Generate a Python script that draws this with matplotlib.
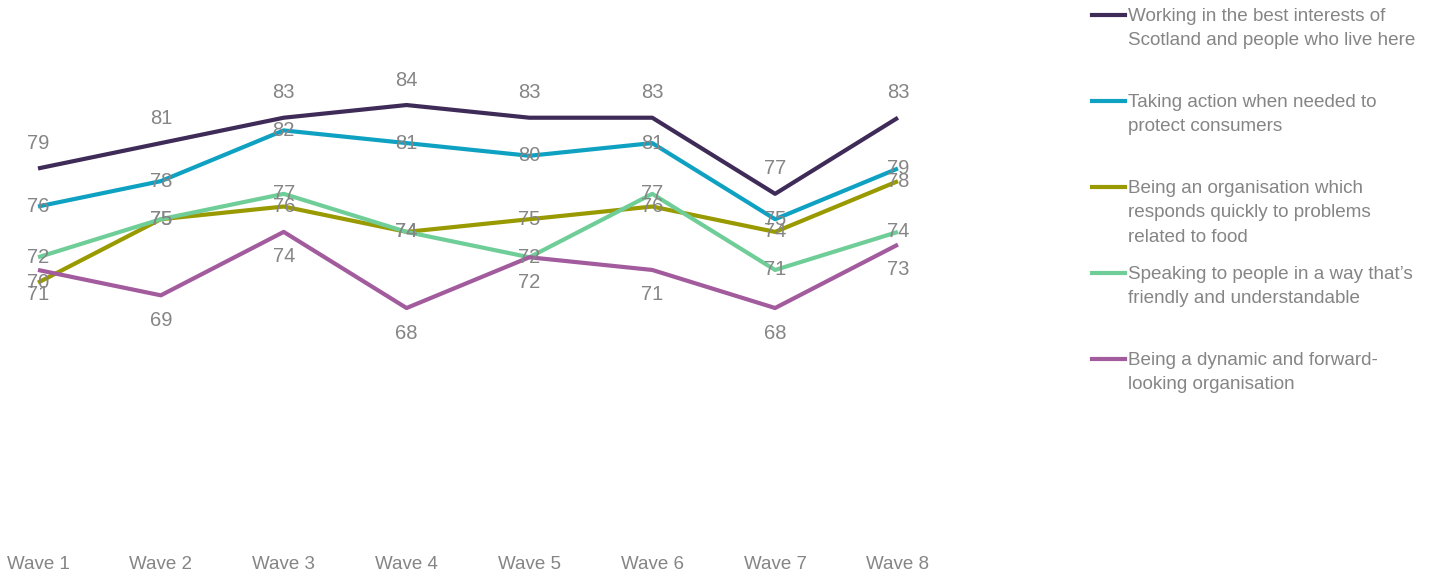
import matplotlib.pyplot as plt
from matplotlib.lines import Line2D

waves = ["Wave 1", "Wave 2", "Wave 3", "Wave 4", "Wave 5", "Wave 6", "Wave 7", "Wave 8"]

best_interests = [79, 81, 83, 84, 83, 83, 77, 83]
taking_action = [76, 78, 82, 81, 80, 81, 75, 79]
responds_quickly = [70, 75, 76, 74, 75, 76, 74, 78]
friendly = [72, 75, 77, 74, 72, 77, 71, 74]
dynamic = [71, 69, 74, 68, 72, 71, 68, 73]

names = [
    "Working in the best interests of\nScotland and people who live here",
    "Taking action when needed to\nprotect consumers",
    "Being an organisation which\nresponds quickly to problems\nrelated to food",
    "Speaking to people in a way that\u2019s\nfriendly and understandable",
    "Being a dynamic and forward-\nlooking organisation",
]
colors = ["#3f2b58", "#0fa1c1", "#999900", "#6fce98", "#a25b9d"]
label_offset = [18, 0, 0, 0, -18]  # points; above / on / below the line

plt.rcParams["font.family"] = ["Liberation Sans", "DejaVu Sans"]
grey = "#858585"

fig = plt.figure(figsize=(14.32, 5.76), dpi=100)
ax = fig.add_axes([0.0008, 0.0688, 0.652, 0.881])

series = [best_interests, taking_action, responds_quickly, friendly, dynamic]
x = list(range(len(waves)))
for vals, c in zip(series, colors):
    ax.plot(x, vals, color=c, lw=3, solid_capstyle="butt", zorder=2)
for vals, off in zip(series, label_offset):
    for xi, v in zip(x, vals):
        ax.annotate(str(v), (xi, v), xytext=(0, off), textcoords="offset points",
                    ha="center", va="center", fontsize=14.5, color=grey, zorder=3)

ax.set_xlim(-0.3, 7.3)
ax.set_ylim(50, 90)
ax.set_xticks(x)
ax.set_xticklabels(waves, fontsize=13.5, color=grey)
ax.tick_params(axis="x", length=0, pad=14)
ax.set_yticks([])
for s in ax.spines.values():
    s.set_visible(False)

# legend drawn by hand to match spacing
W, H = 1432, 576
for i, (name, c) in enumerate(zip(names, colors)):
    yc = 15 + 86 * i
    fig.add_artist(Line2D([1092 / W, 1125 / W], [1 - yc / H, 1 - yc / H],
                          color=c, lw=3, transform=fig.transFigure))
    fig.text(1128 / W, 1 - (yc - 7) / H, name, ha="left", va="top",
             fontsize=13.6, color=grey, linespacing=1.57)

fig.savefig("out.png", dpi=100)
